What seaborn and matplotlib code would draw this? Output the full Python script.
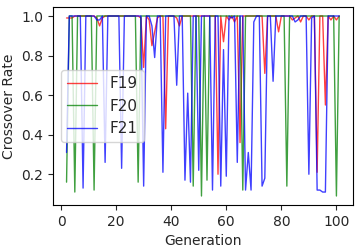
import numpy as np
import pandas as pd
import matplotlib
matplotlib.use("Agg")
import matplotlib.pyplot as plt
import seaborn as sns

generation = list(range(2, 102))

f19 = [0.99, 0.99, 0.99, 1.0, 1.0, 1.0, 1.0, 1.0, 1.0, 1.0,
       1.0, 0.99, 0.95, 0.99, 1.0, 1.0, 1.0, 1.0, 1.0, 1.0,
       1.0, 1.0, 1.0, 1.0, 1.0, 1.0, 1.0, 0.99, 0.74, 1.0,
       0.98, 0.85, 0.92, 0.99, 1.0, 1.0, 0.43, 1.0, 1.0, 1.0,
       0.99, 0.95, 1.0, 1.0, 1.0, 1.0, 1.0, 1.0, 1.0, 1.0,
       1.0, 1.0, 1.0, 1.0, 1.0, 0.20, 1.0, 0.87, 1.0, 0.98,
       1.0, 0.97, 1.0, 0.36, 1.0, 1.0, 1.0, 1.0, 1.0, 1.0,
       1.0, 1.0, 0.71, 1.0, 1.0, 1.0, 1.0, 0.92, 1.0, 1.0,
       1.0, 1.0, 0.98, 0.99, 1.0, 0.97, 1.0, 1.0, 0.98, 1.0,
       1.0, 0.21, 1.0, 1.0, 0.55, 1.0, 0.98, 1.0, 0.98, 1.0]

f20 = [0.16, 1.0, 1.0, 0.11, 1.0, 1.0, 1.0, 1.0, 1.0, 1.0,
       0.12, 1.0, 1.0, 1.0, 1.0, 1.0, 1.0, 1.0, 1.0, 1.0,
       1.0, 1.0, 1.0, 1.0, 1.0, 1.0, 0.16, 1.0, 1.0, 1.0,
       1.0, 1.0, 1.0, 1.0, 1.0, 1.0, 1.0, 1.0, 1.0, 1.0,
       1.0, 1.0, 1.0, 1.0, 1.0, 1.0, 0.14, 1.0, 1.0, 0.09,
       1.0, 0.17, 1.0, 1.0, 1.0, 1.0, 1.0, 1.0, 1.0, 1.0,
       1.0, 1.0, 1.0, 1.0, 0.12, 1.0, 1.0, 1.0, 1.0, 1.0,
       1.0, 1.0, 1.0, 1.0, 1.0, 1.0, 1.0, 1.0, 1.0, 1.0,
       0.14, 1.0, 1.0, 1.0, 1.0, 1.0, 1.0, 1.0, 1.0, 1.0,
       1.0, 1.0, 1.0, 1.0, 1.0, 1.0, 1.0, 1.0, 0.09, 1.0]

f21 = [0.31, 1.0, 1.0, 1.0, 1.0, 1.0, 0.13, 1.0, 1.0, 1.0,
       1.0, 0.98, 0.98, 1.0, 0.26, 1.0, 1.0, 1.0, 1.0, 1.0,
       0.23, 1.0, 1.0, 1.0, 1.0, 1.0, 1.0, 1.0, 0.14, 1.0,
       1.0, 0.95, 0.79, 1.0, 1.0, 0.21, 1.0, 1.0, 1.0, 1.0,
       0.65, 1.0, 1.0, 0.17, 0.61, 0.16, 1.0, 1.0, 0.22, 1.0,
       1.0, 1.0, 1.0, 0.12, 1.0, 1.0, 0.14, 0.83, 0.19, 1.0,
       0.99, 1.0, 0.26, 1.0, 1.0, 0.12, 0.31, 0.12, 0.97, 1.0,
       1.0, 0.14, 0.18, 1.0, 1.0, 0.67, 1.0, 1.0, 1.0, 1.0,
       1.0, 1.0, 1.0, 0.97, 0.98, 1.0, 1.0, 1.0, 0.20, 0.99,
       1.0, 0.12, 0.12, 0.11, 0.11, 1.0, 1.0, 1.0, 1.0, 1.0]

series = {"F19": f19, "F20": f20, "F21": f21}
colors = {"F19": "red", "F20": "green", "F21": "blue"}

sns.set_style("ticks")
plt.rcParams["font.family"] = ["DejaVu Sans"]

fig, ax = plt.subplots(figsize=(3.6, 2.5), dpi=100)
for name, vals in series.items():
    df = pd.DataFrame({"Generation": generation, "Crossover Rate": vals})
    sns.lineplot(data=df, x="Generation", y="Crossover Rate", ax=ax,
                 color=colors[name], alpha=0.75, lw=1.0, label=name)

ax.set_xlabel("Generation", fontsize=10)
ax.set_ylabel("Crossover Rate", fontsize=10)
ax.tick_params(labelsize=10)
ax.set_xticks([0, 20, 40, 60, 80, 100])
ax.set_yticks([0.2, 0.4, 0.6, 0.8, 1.0])
for s in ax.spines.values():
    s.set_color("black")
ax.legend(loc="center left", fontsize=11)

fig.subplots_adjust(left=0.147, right=0.98, top=0.972, bottom=0.18)
fig.savefig("out.png", dpi=100)
